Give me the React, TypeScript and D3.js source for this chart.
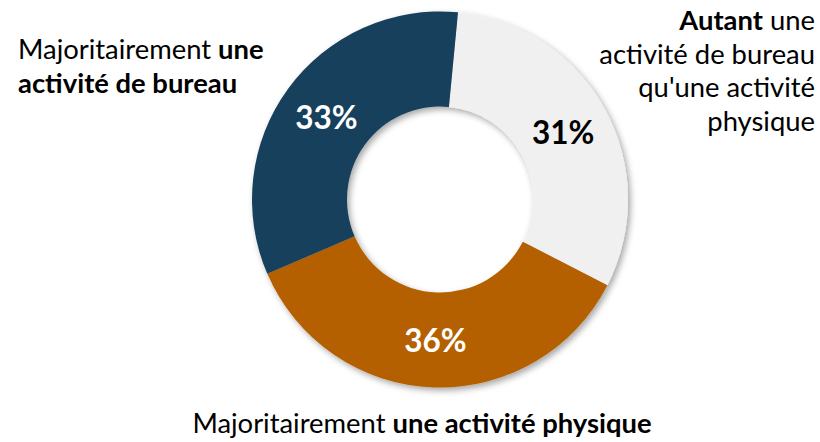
import React, { useEffect, useRef } from "react";
import * as d3 from "d3";

// share of each answer, clockwise from the top
const categories = ["Autant", "Physique", "Bureau"];
const values = [31, 36, 33];
const valueLabels = ["31%", "36%", "33%"];
const colors = ["#F0F0F0", "#B45F06", "#17405C"];
const labelColors = ["#000000", "#FFFFFF", "#FFFFFF"];

const FONT = "Lato, 'Open Sans', sans-serif";

const App = () => {
  const chartRef = useRef<SVGSVGElement>(null);

  useEffect(() => {
    const width = 820;
    const height = 442;
    const cx = 440;
    const cy = 199.5;
    const outer = 188;
    const inner = 93;
    const start = (5.5 * Math.PI) / 180;

    const svg = d3.select(chartRef.current);
    svg.selectAll("*").remove();
    svg.attr("width", width).attr("height", height);

    const defs = svg.append("defs");
    defs
      .append("filter")
      .attr("id", "shadow")
      .attr("x", "-20%")
      .attr("y", "-20%")
      .attr("width", "140%")
      .attr("height", "140%")
      .append("feDropShadow")
      .attr("dx", 2.5)
      .attr("dy", 3)
      .attr("stdDeviation", 3)
      .attr("flood-color", "#000")
      .attr("flood-opacity", 0.35);

    const pie = d3
      .pie<number>()
      .sort(null)
      .startAngle(start)
      .endAngle(start + 2 * Math.PI);

    const arc = d3.arc<d3.PieArcDatum<number>>().innerRadius(inner).outerRadius(outer);

    const arcs = pie(values);

    const g = svg.append("g").attr("transform", `translate(${cx},${cy})`);

    g.append("g")
      .attr("filter", "url(#shadow)")
      .selectAll("path")
      .data(arcs)
      .enter()
      .append("path")
      .attr("d", arc)
      .attr("fill", (d, i) => colors[i]);

    g.selectAll(".val")
      .data(arcs)
      .enter()
      .append("text")
      .attr("class", "val")
      .attr("transform", (d) => `translate(${arc.centroid(d)})`)
      .attr("text-anchor", "middle")
      .attr("dominant-baseline", "central")
      .attr("font-family", FONT)
      .attr("font-weight", "bold")
      .attr("font-size", 31.5)
      .attr("fill", (d, i) => labelColors[i])
      .text((d, i) => valueLabels[i]);

    const fs = 27.4;

    // left label (bureau)
    const left = svg
      .append("text")
      .attr("font-family", FONT)
      .attr("font-size", fs)
      .attr("fill", "#000");
    const l1 = left.append("tspan").attr("x", 18).attr("y", 59);
    l1.append("tspan").text("Majoritairement ");
    l1.append("tspan").attr("font-weight", "bold").text("une");
    left
      .append("tspan")
      .attr("x", 18)
      .attr("y", 92.5)
      .attr("font-weight", "bold")
      .text("activité de bureau");

    // right label (autant)
    const right = svg
      .append("text")
      .attr("font-family", FONT)
      .attr("font-size", fs)
      .attr("fill", "#000")
      .attr("text-anchor", "end");
    const r1 = right.append("tspan").attr("x", 815).attr("y", 30);
    r1.append("tspan").attr("font-weight", "bold").text("Autant");
    r1.append("tspan").text(" une");
    right.append("tspan").attr("x", 815).attr("y", 63.5).text("activité de bureau");
    right.append("tspan").attr("x", 815).attr("y", 97).text("qu'une activité");
    right.append("tspan").attr("x", 815).attr("y", 130.5).text("physique");

    // bottom label (physique)
    const bottom = svg
      .append("text")
      .attr("font-family", FONT)
      .attr("font-size", fs)
      .attr("fill", "#000")
      .attr("text-anchor", "middle")
      .attr("x", 422)
      .attr("y", 433);
    bottom.append("tspan").text("Majoritairement ");
    bottom.append("tspan").attr("font-weight", "bold").text("une activité physique");
  }, []);

  return (
    <svg
      ref={chartRef}
      style={{ position: "absolute", left: 0, top: 0, display: "block" }}
    ></svg>
  );
};

export default App;
